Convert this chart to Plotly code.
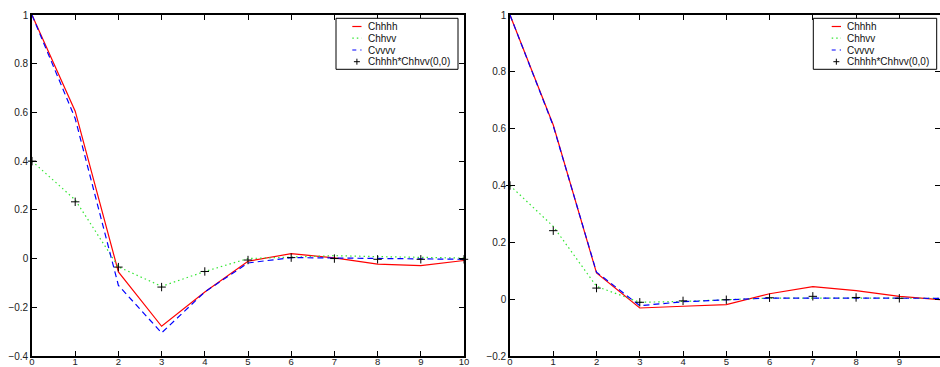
import plotly.graph_objects as go

# ---------------- data ----------------
lags = [0, 1, 2, 3, 4, 5, 6, 7, 8, 9, 10]
series_names = ["Chhhh", "Chhvv", "Cvvvv", "Chhhh*Chhvv(0,0)"]

left_chhhh = [1.0, 0.605, -0.055, -0.278, -0.137, -0.011, 0.020, 0.003, -0.023, -0.029, -0.008]
left_chhvv = [0.40, 0.241, -0.034, -0.114, -0.053, 0.0, 0.006, 0.012, 0.008, 0.005, 0.002]
left_cvvvv = [1.0, 0.575, -0.110, -0.305, -0.137, -0.018, 0.004, 0.002, 0.0, -0.002, -0.003]
left_prod = [0.40, 0.233, -0.035, -0.117, -0.053, -0.006, 0.004, 0.0, -0.003, -0.003, -0.003]

right_chhhh = [1.0, 0.613, 0.092, -0.031, -0.025, -0.019, 0.019, 0.044, 0.030, 0.010, -0.002]
right_chhvv = [0.40, 0.256, 0.045, -0.011, -0.008, -0.003, 0.004, 0.004, 0.004, 0.004, 0.003]
right_cvvvv = [1.0, 0.610, 0.095, -0.023, -0.009, -0.002, 0.004, 0.004, 0.004, 0.005, 0.003]
right_prod = [0.40, 0.241, 0.039, -0.011, -0.006, -0.002, 0.005, 0.010, 0.006, 0.003, 0.002]

x_tickvals = [0, 1, 2, 3, 4, 5, 6, 7, 8, 9, 10]
x_ticktext = ["0", "1", "2", "3", "4", "5", "6", "7", "8", "9", "10"]
left_y_tickvals = [-0.4, -0.2, 0, 0.2, 0.4, 0.6, 0.8, 1]
left_y_ticktext = ["\u22120.4", "\u22120.2", "0", "0.2", "0.4", "0.6", "0.8", "1"]
right_y_tickvals = [-0.2, 0, 0.2, 0.4, 0.6, 0.8, 1]
right_y_ticktext = ["\u22120.2", "0", "0.2", "0.4", "0.6", "0.8", "1"]

# ---------------- styles ----------------
W, H = 940, 367
RED = "#ff0000"
GREEN = "#33e633"
BLUE = "#0000ff"
BLACK = "#000000"
FONT = "Liberation Sans, Arial, Helvetica, sans-serif"


def px(xp):
    return xp / W


def py(yp):
    return 1 - yp / H


fig = go.Figure()


def add_panel(xa, ya, c1, c2, c3, prod):
    fig.add_trace(go.Scatter(x=lags, y=c1, mode="lines", name=series_names[0],
                             line=dict(color=RED, width=1.2), xaxis=xa, yaxis=ya, showlegend=False))
    fig.add_trace(go.Scatter(x=lags, y=c2, mode="lines", name=series_names[1],
                             line=dict(color=GREEN, width=1.2, dash="1.5px,3px"), xaxis=xa, yaxis=ya,
                             showlegend=False))
    fig.add_trace(go.Scatter(x=lags, y=c3, mode="lines", name=series_names[2],
                             line=dict(color=BLUE, width=1.2, dash="6px,4px"), xaxis=xa, yaxis=ya,
                             showlegend=False))
    fig.add_trace(go.Scatter(x=lags, y=prod, mode="markers", name=series_names[3],
                             marker=dict(symbol="cross-thin", size=6, line=dict(color=BLACK, width=1)),
                             xaxis=xa, yaxis=ya, showlegend=False, cliponaxis=False))


add_panel("x", "y", left_chhhh, left_chhvv, left_cvvvv, left_prod)
add_panel("x2", "y2", right_chhhh, right_chhvv, right_cvvvv, right_prod)

axis_common = dict(
    showgrid=False, zeroline=False, showline=True, linecolor=BLACK, linewidth=1.6,
    mirror="ticks", ticks="inside", ticklen=5, tickwidth=1, tickcolor=BLACK,
    tickfont=dict(family=FONT, size=10, color="#222222"), automargin=False,
)
x_label_font = dict(family=FONT, size=9.5, color="#222222")

y_domain = [11 / H, 352 / H]

fig.update_layout(
    width=W, height=H,
    margin=dict(l=0, r=0, t=0, b=0, pad=0, autoexpand=False),
    paper_bgcolor="white", plot_bgcolor="white",
    showlegend=False,
    xaxis=dict(domain=[px(32), px(464)], range=[0, 10], tickvals=x_tickvals, ticktext=x_ticktext,
               anchor="y", ticklabelstandoff=-4, **axis_common),
    yaxis=dict(domain=y_domain, range=[-0.4, 1], tickvals=left_y_tickvals, ticktext=left_y_ticktext,
               anchor="x", **axis_common),
    xaxis2=dict(domain=[px(510), 1.0], range=[0, (940 - 510) / 43.26], tickvals=x_tickvals,
                ticktext=x_ticktext, anchor="y2", ticklabelstandoff=-4, **axis_common),
    yaxis2=dict(domain=y_domain, range=[-0.2, 1], tickvals=right_y_tickvals, ticktext=right_y_ticktext,
                anchor="x2", **axis_common),
)
fig.update_xaxes(tickfont=x_label_font)

# ---------------- manual legends (compact, like the original) ----------------
shapes = []
annotations = []


def add_legend(box_l, box_r, line_l, line_r, text_l):
    box_t, box_b = 18.3, 69.3
    rows = [26.5, 38.2, 50.0, 61.7]
    shapes.append(dict(type="rect", xref="paper", yref="paper",
                       x0=px(box_l), x1=px(box_r), y0=py(box_b), y1=py(box_t),
                       line=dict(color=BLACK, width=1), fillcolor="white", layer="above"))
    styles = [dict(color=RED, width=1.2), dict(color=GREEN, width=1.2, dash="1.5px,3px"),
              dict(color=BLUE, width=1.2, dash="4px,4px")]
    for i, st in enumerate(styles):
        shapes.append(dict(type="line", xref="paper", yref="paper",
                           x0=px(line_l), x1=px(line_r), y0=py(rows[i]), y1=py(rows[i]),
                           line=st, layer="above"))
    cx = (line_l + line_r) / 2
    r = rows[3]
    shapes.append(dict(type="line", xref="paper", yref="paper", x0=px(cx - 3), x1=px(cx + 3),
                       y0=py(r), y1=py(r), line=dict(color=BLACK, width=1), layer="above"))
    shapes.append(dict(type="line", xref="paper", yref="paper", x0=px(cx), x1=px(cx),
                       y0=py(r - 3), y1=py(r + 3), line=dict(color=BLACK, width=1), layer="above"))
    for i, name in enumerate(series_names):
        annotations.append(dict(text=name, xref="paper", yref="paper", x=px(text_l), y=py(rows[i]),
                                xanchor="left", yanchor="middle", showarrow=False,
                                font=dict(family=FONT, size=10, color="#111111")))


add_legend(336, 458, 352.3, 361.5, 365.7)
add_legend(813.3, 936.7, 831.7, 841, 845)

fig.update_layout(shapes=shapes, annotations=annotations)

fig.write_html("out.html")
